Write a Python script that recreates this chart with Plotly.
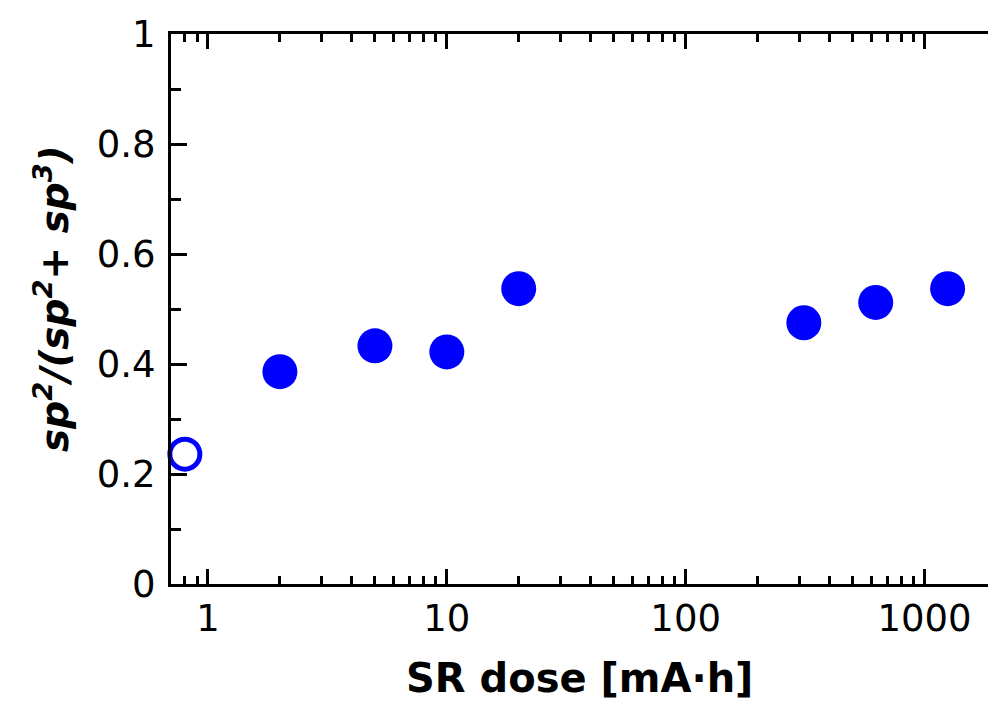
import math
import plotly.graph_objects as go

# Data
dose_open = [0.8]
frac_open = [0.236]
dose_filled = [2, 5, 10, 20, 312.5, 625, 1250]
frac_filled = [0.386, 0.433, 0.422, 0.537, 0.475, 0.512, 0.537]

x_tickvals = [1, 10, 100, 1000]
x_ticktext = ["1", "10", "100", "1000"]
x_minor = [0.7, 0.8, 0.9] + [m * 10 ** k for k in range(0, 4) for m in range(2, 10)]
y_tickvals = [0, 0.2, 0.4, 0.6, 0.8, 1.0]
y_ticktext = ["0", "0.2", "0.4", "0.6", "0.8", "1"]
y_minor = [0.1, 0.3, 0.5, 0.7, 0.9]

BLUE = "#0000FF"
FONT = "DejaVu Sans"

fig = go.Figure()
fig.add_trace(go.Scatter(
    x=dose_open, y=frac_open, mode="markers",
    marker=dict(symbol="circle-open", size=30, color=BLUE, line=dict(width=5, color=BLUE)),
    showlegend=False, cliponaxis=False,
))
fig.add_trace(go.Scatter(
    x=dose_filled, y=frac_filled, mode="markers",
    marker=dict(symbol="circle", size=35, color=BLUE, line=dict(width=0)),
    showlegend=False, cliponaxis=False,
))

fig.update_layout(
    width=988, height=704,
    margin=dict(l=171, r=0, t=34, b=120, pad=0),
    paper_bgcolor="white", plot_bgcolor="white",
    font=dict(family=FONT, color="black", size=37),
    xaxis=dict(
        type="log", range=[math.log10(0.7), 3.266],
        tickmode="array", tickvals=x_tickvals, ticktext=x_ticktext,
        ticks="inside", ticklen=15, tickwidth=3, tickcolor="black",
        showline=True, linewidth=3, linecolor="black", mirror="ticks",
        showgrid=False, zeroline=False,
        ticklabelstandoff=0,
        tickfont=dict(family=FONT, size=37, color="black"),
        minor=dict(tickmode="array", tickvals=x_minor, ticks="inside",
                   ticklen=8, tickwidth=2.5, tickcolor="black", showgrid=False),
    ),
    yaxis=dict(
        range=[0, 1],
        tickmode="array", tickvals=y_tickvals, ticktext=y_ticktext,
        ticks="inside", ticklen=16, tickwidth=3, tickcolor="black",
        showline=True, linewidth=3, linecolor="black", mirror=False,
        showgrid=False, zeroline=False,
        ticklabelstandoff=5,
        tickfont=dict(family=FONT, size=37, color="black"),
        minor=dict(tickmode="array", tickvals=y_minor, ticks="inside",
                   ticklen=10, tickwidth=3, tickcolor="black", showgrid=False),
    ),
    yaxis2=dict(
        overlaying="y", side="right", range=[0, 1],
        tickmode="array", tickvals=y_tickvals, showticklabels=False,
        ticks="inside", ticklen=9, tickwidth=3, tickcolor="black",
        showline=False, showgrid=False, zeroline=False,
        minor=dict(tickmode="array", tickvals=y_minor, ticks="inside",
                   ticklen=3, tickwidth=3, tickcolor="black", showgrid=False),
    ),
    annotations=[
        dict(text="<b>SR dose [mA·h]</b>", xref="paper", yref="paper",
             x=0.5, y=-0.17, xanchor="center", yanchor="middle",
             showarrow=False, font=dict(family=FONT, size=40, color="black")),
        dict(text="<b><i>sp<sup>2</sup>/(sp<sup>2</sup>+ sp<sup>3</sup>)</i></b>",
             xref="paper", yref="paper", x=-0.1457, y=0.52,
             xanchor="center", yanchor="middle", textangle=-90,
             showarrow=False, font=dict(family=FONT, size=39, color="black")),
    ],
)

fig.write_html("out.html")
